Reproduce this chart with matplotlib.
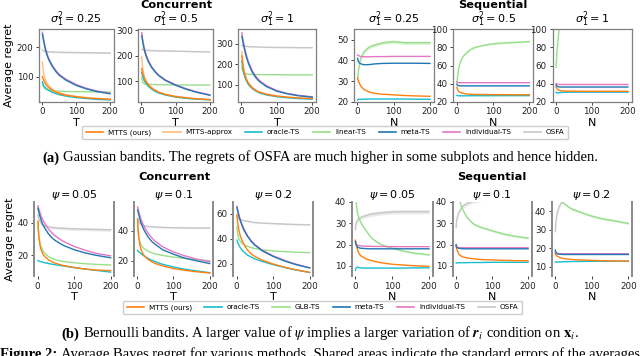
import matplotlib
matplotlib.use("Agg")
import matplotlib.pyplot as plt
from matplotlib.lines import Line2D
from matplotlib.mathtext import MathTextParser

W, H = 640, 356

# x positions (T for concurrent, N for sequential) at which values were read
steps = [1, 2, 4, 7, 10, 15, 20, 30, 40, 50, 70, 100, 130, 160, 200]

# ---------------- (a) Gaussian bandits, concurrent (sigma_1^2 = 0.25, 0.5, 1)
gc_mtts = [
    [100, 96, 90, 82, 76, 68, 62, 53, 47, 42, 36, 31, 27, 25, 22],
    [150, 142, 130, 118, 108, 96, 87, 74, 65, 58, 49, 41, 36, 32, 29],
    [240, 225, 195, 165, 145, 122, 106, 86, 73, 64, 54, 45, 40, 36, 33],
]
gc_approx = [
    [150, 135, 115, 98, 88, 76, 68, 57, 50, 45, 38, 32, 28, 25, 23],
    [195, 175, 150, 128, 115, 100, 90, 76, 66, 59, 50, 42, 37, 33, 30],
    [262, 240, 205, 172, 150, 125, 108, 88, 75, 66, 55, 46, 40, 36, 34],
]
gc_oracle = [
    [82, 78, 72, 66, 62, 57, 53, 46, 42, 38, 33, 28, 25, 22, 20],
    [135, 128, 118, 107, 99, 89, 81, 70, 61, 55, 47, 39, 34, 31, 28],
    [215, 200, 178, 152, 135, 115, 100, 82, 70, 61, 51, 42, 37, 33, 30],
]
gc_linear = [
    [78, 72, 65, 60, 57, 55, 54, 52, 51, 50, 49, 48.5, 48, 47.5, 47],
    [115, 105, 96, 92, 90, 89, 88.5, 88, 87.5, 87, 87, 86.5, 86, 86, 86],
    [182, 175, 165, 158, 155, 152, 151, 150, 150, 149, 149, 149, 148, 148, 148],
]
gc_meta = [
    [245, 238, 225, 208, 192, 172, 157, 135, 118, 105, 88, 70, 58, 49, 41],
    [278, 270, 253, 232, 215, 194, 178, 154, 137, 123, 104, 85, 70, 58, 46],
    [335, 326, 308, 283, 260, 228, 202, 163, 136, 117, 92, 69, 56, 47, 40],
]
gc_indiv = [
    [252, 244, 231, 213, 197, 177, 161, 139, 122, 108, 91, 73, 60, 51, 43],
    [290, 280, 262, 240, 222, 200, 183, 158, 140, 126, 106, 87, 72, 60, 48],
    [352, 342, 322, 295, 270, 238, 210, 170, 142, 122, 96, 72, 58, 49, 42],
]
gc_osfa = [
    [192, 190, 188, 187, 186, 185.5, 185, 184.5, 184, 183.5, 183, 182.5, 182, 181.5, 181],
    [225, 224, 223, 222, 222, 221, 221, 220, 220, 219, 219, 218, 217, 216, 215],
    [290, 292, 290, 288, 287, 286, 285, 284, 284, 283, 282, 281, 281, 280, 280],
]
gc_osfa_se = [3, 2, 2]

# ---------------- (a) Gaussian bandits, sequential
gs_mtts = [
    [31.5, 30.5, 29.5, 28.5, 27.5, 26.5, 25.8, 24.9, 24.3, 24, 23.6, 23.3, 23, 22.8, 22.6],
    [36, 34, 32.5, 31, 30.5, 29.5, 29, 28.5, 28.2, 28, 28, 27.8, 27.8, 27.7, 27.7],
    [37, 35.5, 34, 33, 32.5, 32, 32, 31.8, 31.7, 31.6, 31.5, 31.5, 31.5, 31.5, 31.5],
]
gs_oracle = [
    [20.8, 21, 21.2, 21.2, 21.1, 21.2, 21.2, 21.3, 21.3, 21.3, 21.3, 21.3, 21.3, 21.2, 21.2],
    [27, 26.8, 26.6, 26.5, 26.5, 26.5, 26.5, 26.5, 26.6, 26.6, 26.6, 26.6, 26.7, 26.7, 26.7],
    [30.5, 30, 29.5, 29.8, 30, 30.2, 30.3, 30.4, 30.5, 30.5, 30.5, 30.5, 30.5, 30.5, 30.5],
]
gs_linear = [
    [31, 33, 36, 39, 41, 43, 44.5, 46, 47, 47.5, 48.5, 49, 48.5, 48.5, 48.5],
    [40, 45, 52, 59, 63, 68, 71, 75, 78, 80, 82, 84, 85, 85.5, 86.5],
    [58, 66, 78, 92, 102, 115, 125, 140, 150, 155, 160, 165, 168, 170, 172],
]
gs_linear_se = [0.8, 0.8, 1.5]
gs_meta = [
    [41, 40, 39.2, 38.6, 38.3, 38, 37.9, 37.9, 38.1, 38.3, 38.5, 38.6, 38.6, 38.6, 38.5],
    [39, 38.5, 38, 37.5, 37.5, 37.5, 37.5, 37.5, 37.5, 37.5, 37.5, 37.5, 37.5, 37.5, 37.5],
    [38.5, 37.5, 37, 36.5, 36.3, 36.2, 36.2, 36.2, 36.2, 36.2, 36.2, 36.2, 36.2, 36.2, 36.2],
]
gs_indiv = [
    [42.5, 42.5, 42.3, 42, 41.8, 41.8, 41.7, 41.7, 41.8, 41.8, 41.8, 41.9, 41.9, 41.9, 41.9],
    [42, 41.5, 41, 41, 41, 41, 41, 41, 41, 41, 41, 41, 41, 41, 41],
    [40, 39.5, 39.5, 39.2, 39, 39, 39, 39, 39, 39, 39, 39, 39, 39, 39],
]

# ---------------- (b) Bernoulli bandits, concurrent (psi = 0.05, 0.1, 0.2)
bc_mtts = [
    [41, 36, 30, 25.5, 23, 20.5, 19, 17, 15.7, 14.8, 13.5, 12.3, 11.3, 10.7, 10.3],
    [48, 42, 36, 31, 28, 25, 23.3, 21, 19.5, 18.3, 16.7, 15, 13.8, 12.9, 12],
    [59, 56, 51, 46, 42.5, 38.5, 35.5, 31, 28, 26, 23, 20, 17.5, 15.5, 13.3],
]
bc_oracle = [
    [16.5, 16.4, 16.2, 16, 15.8, 15.5, 15.2, 14.7, 14.3, 13.9, 13.2, 12.2, 11.3, 10.5, 9.4],
    [27, 26.7, 26.2, 25.5, 25, 24, 23.2, 21.7, 20.5, 19.5, 17.8, 16, 14.6, 13.5, 12.2],
    [39, 38, 36.5, 34.5, 33, 31, 29.5, 27, 25.5, 24, 22, 19.5, 17.3, 15.3, 13.2],
]
bc_glb = [
    [40, 36, 31, 27, 25, 22.5, 21, 19, 17.8, 17, 16, 15.2, 14.6, 14.2, 13.8],
    [44, 40, 36, 33, 31, 29, 28, 26.5, 25.5, 24.7, 23.7, 22.6, 21.7, 21, 20.2],
    [50, 46, 42.5, 39.5, 38, 36.5, 35.5, 34, 33, 32.3, 31.3, 30.4, 29.8, 29.4, 29],
]
bc_meta = [
    [49, 48, 46, 43.5, 41.5, 38.5, 36.5, 33, 30.5, 28.7, 26, 23.3, 21.3, 19.8, 18.3],
    [54, 53, 51, 48, 45.5, 42.5, 40, 36, 33, 31, 27.5, 24.5, 22, 20.3, 18.3],
    [65, 63.5, 61, 57.5, 54.5, 50.5, 47, 42, 38, 35, 30.5, 26, 22.5, 19.7, 16.8],
]
bc_indiv = [
    [50.5, 49.5, 48, 46, 44, 41.5, 39.5, 36, 33.5, 31.5, 28.5, 25.3, 23, 21, 19.5],
    [56, 55, 53, 50.5, 48, 45, 42.5, 38.5, 35.5, 33, 29.5, 26, 23.5, 21.5, 19.5],
    [66, 64.5, 62, 58.5, 55.5, 51.5, 48, 42.5, 38.5, 35.5, 31, 26.5, 23, 20, 17],
]
bc_osfa = [
    [45, 43.5, 42, 40.5, 39.5, 38.5, 38, 37.5, 37, 36.8, 36.5, 36.2, 36, 35.8, 35.6],
    [48, 47, 46, 45, 44.5, 44, 43.5, 43, 42.8, 42.6, 42.4, 42.2, 42.1, 42, 42],
    [59, 58, 57, 56, 55.5, 55, 54.5, 54, 53.5, 53, 52.6, 52.2, 51.8, 51.5, 51.2],
]
bc_osfa_se = [0.9, 0.5, 0.5]

# ---------------- (b) Bernoulli bandits, sequential
bs_mtts = [
    [22, 21, 19.5, 17.5, 16, 14.8, 14.3, 13.3, 12.7, 12.2, 11.5, 10.8, 10.4, 10.1, 9.8],
    [19, 18.3, 17.3, 16, 15.3, 14.6, 14.2, 13.8, 13.5, 13.3, 13, 12.8, 12.6, 12.5, 12.4],
    [17, 16.5, 16, 15.5, 15.2, 14.8, 14.5, 14.2, 14, 13.8, 13.6, 13.4, 13.2, 13.1, 13],
]
bs_oracle = [
    [8, 8.5, 9.3, 9.5, 9.2, 9.1, 9, 9, 9, 9, 9, 9, 9, 9.1, 9.1],
    [11.5, 11.4, 11.4, 11.5, 11.5, 11.5, 11.5, 11.5, 11.6, 11.6, 11.6, 11.7, 11.7, 11.7, 11.7],
    [12.5, 12.5, 12.5, 12.5, 12.5, 12.6, 12.6, 12.7, 12.7, 12.8, 12.8, 12.9, 12.9, 12.9, 13],
]
bs_glb = [
    [48, 42, 38, 34.5, 32.5, 30.5, 29, 26.5, 24, 22.3, 20, 18.3, 17, 16, 15.2],
    [60, 55, 50, 45, 41, 38, 36, 33, 31, 29.5, 28, 26.5, 25, 24, 23],
    [70, 65, 60, 55, 52, 48, 45, 43.5, 42, 41, 39.5, 37.5, 36, 35, 33.5],
]
bs_glb_se = [0.4, 0.5, 0.6]
bs_meta = [
    [21.5, 20.5, 19.5, 18.8, 18.5, 18.3, 18.2, 18.1, 18, 18, 18, 18, 18, 18, 18],
    [20, 19, 18.5, 18.3, 18.2, 18.1, 18, 18, 18, 18, 18, 18, 18, 18, 18],
    [19, 18, 17.3, 17, 16.8, 16.7, 16.6, 16.6, 16.6, 16.6, 16.6, 16.6, 16.6, 16.6, 16.6],
]
bs_indiv = [
    [21, 20.5, 20, 19.7, 19.5, 19.4, 19.3, 19.2, 19.2, 19.1, 19.1, 19, 19, 19, 19],
    [19.5, 19, 18.8, 18.6, 18.5, 18.5, 18.5, 18.5, 18.5, 18.5, 18.5, 18.5, 18.5, 18.5, 18.5],
    [18, 17.5, 17.2, 17, 17, 17, 17, 17, 17, 17, 17, 17, 17, 17, 17],
]
bs_osfa = [
    [27, 29, 30.5, 31.5, 32, 32.5, 33, 33.5, 34, 34.3, 34.8, 35.2, 35.3, 35.3, 35.3],
    [28, 30.5, 32.5, 34.5, 35.5, 37, 38, 39, 39.7, 40.5, 41, 41.5, 42, 42, 42],
    [29, 33, 37, 40, 42, 44, 45.5, 47, 48, 48.5, 49, 49.5, 50, 50, 50],
]
bs_osfa_se = [1.0, 1.0, 1.0]

gauss_titles = [r"$\sigma_1^2 = 0.25$", r"$\sigma_1^2 = 0.5$", r"$\sigma_1^2 = 1$"]
bern_titles = [r"$\psi = 0.05$", r"$\psi = 0.1$", r"$\psi = 0.2$"]

C = {
    "MTTS (ours)": "#ff7f0e",
    "MTTS-approx": "#ffbb78",
    "oracle-TS": "#17becf",
    "linear-TS": "#98df8a",
    "GLB-TS": "#98df8a",
    "meta-TS": "#1f77b4",
    "individual-TS": "#e377c2",
    "OSFA": "#c7c7c7",
}

fig = plt.figure(figsize=(W / 100, H / 100), dpi=100)


def add_ax(l, r, t, b):
    return fig.add_axes([l / W, 1 - b / H, (r - l) / W, (b - t) / H])


def style_ax(ax, boxed):
    ax.tick_params(labelsize=6.3, length=2.5, width=0.6, pad=1.5, colors="#222222")
    for side, sp in ax.spines.items():
        if boxed:
            sp.set_color("#7f7f7f")
            sp.set_linewidth(0.9)
        elif side in ("left", "right"):
            sp.set_color("#8a8a8a")
            sp.set_linewidth(1.4)
        else:
            sp.set_visible(False)
    ax.set_xlim(-9, 210)
    ax.set_xticks([0, 100, 200])


def draw(ax, lines, bands):
    for name, ys in lines:
        ax.plot(steps, ys, color=C[name], lw=1.0)
    for name, ys, se in bands:
        lo = [v - se for v in ys]
        hi = [v + se for v in ys]
        ax.fill_between(steps, lo, hi, color=C[name], alpha=0.35, lw=0)


# ---- top row: Gaussian
top_lr = [(39, 113.5), (138.3, 213.3), (238.3, 315.7), (354, 433.6), (453.3, 533), (552.5, 631.5)]
top_ylims = [(14, 262), (21, 303), (18, 369), (20, 55), (20, 100), (20, 100)]
top_yticks = [[100, 200], [100, 200, 300], [100, 200, 300],
              [20, 30, 40, 50], [20, 40, 60, 80, 100], [20, 40, 60, 80, 100]]
for i in range(6):
    l, r = top_lr[i]
    ax = add_ax(l, r, 29.3, 101.7)
    style_ax(ax, True)
    k = i % 3
    if i < 3:
        draw(ax, [("OSFA", gc_osfa[k]), ("linear-TS", gc_linear[k]),
                  ("MTTS-approx", gc_approx[k]), ("oracle-TS", gc_oracle[k]),
                  ("MTTS (ours)", gc_mtts[k]), ("individual-TS", gc_indiv[k]),
                  ("meta-TS", gc_meta[k])],
             [("OSFA", gc_osfa[k], gc_osfa_se[k])])
        ax.set_xlabel("T", fontsize=8, labelpad=1)
    else:
        draw(ax, [("linear-TS", gs_linear[k]), ("oracle-TS", gs_oracle[k]),
                  ("MTTS (ours)", gs_mtts[k]), ("individual-TS", gs_indiv[k]),
                  ("meta-TS", gs_meta[k])],
             [("linear-TS", gs_linear[k], gs_linear_se[k])])
        ax.set_xlabel("N", fontsize=8, labelpad=1)
    ax.set_ylim(*top_ylims[i])
    ax.set_yticks(top_yticks[i])
    ax.set_title(gauss_titles[k], fontsize=8, pad=0)
    if i == 0:
        ax.set_ylabel("Average regret", fontsize=8, labelpad=2)

# ---- bottom row: Bernoulli
bot_lr = [(34.3, 114.3), (134, 213.3), (233.3, 313.3), (351.7, 432.7), (452.5, 531.7), (551.7, 632)]
bot_ylims = [(7, 53), (10, 59.5), (10.4, 69.6), (5.3, 40), (5.3, 40), (4.9, 45.3)]
bot_yticks = [[20, 40], [20, 40], [20, 40, 60], [10, 20, 30, 40], [10, 20, 30, 40], [10, 20, 30, 40]]
for i in range(6):
    l, r = bot_lr[i]
    ax = add_ax(l, r, 201.7, 276)
    style_ax(ax, False)
    k = i % 3
    if i < 3:
        draw(ax, [("OSFA", bc_osfa[k]), ("GLB-TS", bc_glb[k]),
                  ("oracle-TS", bc_oracle[k]), ("MTTS (ours)", bc_mtts[k]),
                  ("individual-TS", bc_indiv[k]), ("meta-TS", bc_meta[k])],
             [("OSFA", bc_osfa[k], bc_osfa_se[k])])
        ax.set_xlabel("T", fontsize=8, labelpad=1)
    else:
        draw(ax, [("OSFA", bs_osfa[k]), ("GLB-TS", bs_glb[k]),
                  ("oracle-TS", bs_oracle[k]), ("MTTS (ours)", bs_mtts[k]),
                  ("individual-TS", bs_indiv[k]), ("meta-TS", bs_meta[k])],
             [("OSFA", bs_osfa[k], bs_osfa_se[k]), ("GLB-TS", bs_glb[k], bs_glb_se[k])])
        ax.set_xlabel("N", fontsize=8, labelpad=1)
    ax.set_ylim(*bot_ylims[i])
    ax.set_yticks(bot_yticks[i])
    ax.set_title(bern_titles[k], fontsize=8, pad=0.5)
    if i == 0:
        ax.set_ylabel("Average regret", fontsize=8, labelpad=2)

# ---- group headers
for x, y, s in [(176, 5, "Concurrent"), (493, 5, "Sequential"),
                (174, 177, "Concurrent"), (492, 177, "Sequential")]:
    fig.text(x / W, 1 - y / H, s, fontsize=8.2, fontweight="bold", ha="center", va="center")

# ---- legends
top_names = ["MTTS (ours)", "MTTS-approx", "oracle-TS", "linear-TS", "meta-TS", "individual-TS", "OSFA"]
bot_names = ["MTTS (ours)", "oracle-TS", "GLB-TS", "meta-TS", "individual-TS", "OSFA"]
for names, cx, cy in [(top_names, 325, 132.5), (bot_names, 322.5, 307.5)]:
    handles = [Line2D([], [], color=C[n], lw=1.2) for n in names]
    fig.legend(handles, names, loc="center", bbox_to_anchor=(cx / W, 1 - cy / H),
               ncol=len(names), fontsize=5.2, handlelength=2.4, columnspacing=1.75,
               handletextpad=0.65, borderpad=0.45, frameon=True, edgecolor="#cccccc",
               fancybox=True, framealpha=1)

# ---- captions
try:
    MathTextParser("agg").parse(r"$\mathbfit{r}_i$")
    r_sym = r"$\mathbfit{r}_i$"
except Exception:
    r_sym = r"$\mathbf{r}_i$"

renderer = fig.canvas.get_renderer()


def caption(y, bold, rest, fs, x=None):
    kw = dict(fontsize=fs, family="Liberation Serif", va="baseline", math_fontfamily="stix")
    t1 = fig.text(0, 1 - y / H, bold, fontweight="bold", **kw)
    t2 = fig.text(0, 1 - y / H, rest, **kw)
    w1 = t1.get_window_extent(renderer).width
    w2 = t2.get_window_extent(renderer).width
    gap = fs * 100 / 72 * 0.25
    total = w1 + gap + w2
    x0 = (W - total) / 2 if x is None else x
    t1.set_x(x0 / W)
    t2.set_x((x0 + w1 + gap) / W)


caption(161.5, "(a)", "Gaussian bandits. The regrets of OSFA are much higher in some subplots and hence hidden.", 10.5)
caption(337.5, "(b)", r"Bernoulli bandits. A larger value of $\psi$ implies a larger variation of "
        + r_sym + r" condition on $\mathbf{x}_i$.", 10.5)
caption(358, "Figure 2:", "Average Bayes regret for various methods. Shared areas indicate the standard errors of the averages.",
        10.5, x=0)

fig.savefig("out.png", dpi=100)
